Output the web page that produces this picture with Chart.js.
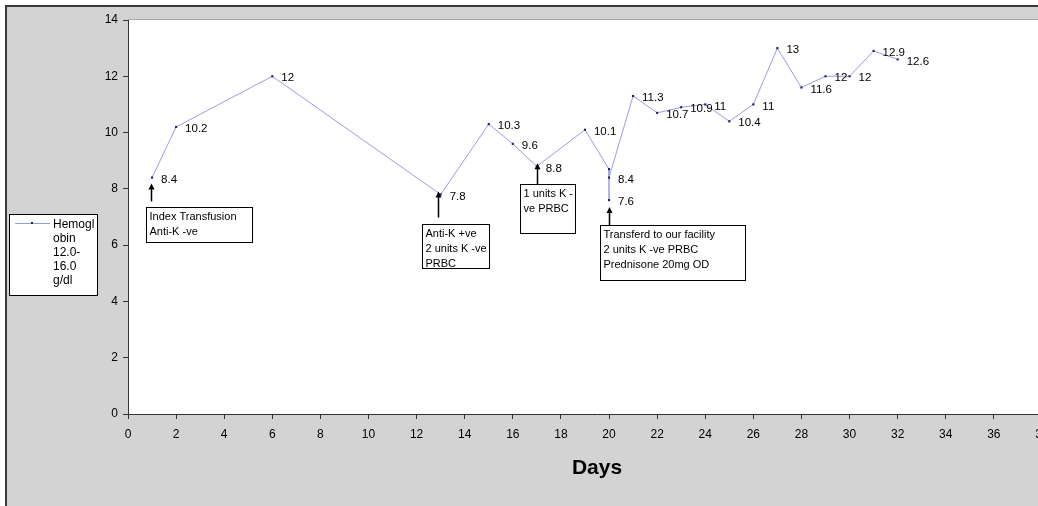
<!DOCTYPE html>
<html>
<head>
<meta charset="utf-8">
<title>Hemoglobin by day</title>
<script src="https://cdn.jsdelivr.net/npm/chart.js@4.4.1/dist/chart.umd.min.js"></script>
<style>
    html, body { margin: 0; padding: 0; background: #fff; overflow: hidden; }
    #wrap { width: 1038px; height: 506px; overflow: hidden; }
    canvas { display: block; }
</style>
</head>
<body>
<div id="wrap">
    <canvas id="hb-chart" width="1070" height="506"></canvas>
</div>
<script>
// Data
const days = [1, 2, 6, 13, 15, 16, 17, 19, 20, 20, 20, 21, 22, 23, 24, 25, 26, 27, 28, 29, 30, 31, 32];
const hemoglobin = [8.4, 10.2, 12, 7.8, 10.3, 9.6, 8.8, 10.1, 8.7, 7.6, 8.4, 11.3, 10.7, 10.9, 11, 10.4, 11, 13, 11.6, 12, 12, 12.9, 12.6];
// value labels shown next to the points (null = no label)
const pointLabels = ['8.4', '10.2', '12', '7.8', '10.3', '9.6', '8.8', '10.1', null, '7.6', '8.4', '11.3', '10.7', '10.9', '11', '10.4', '11', '13', '11.6', '12', '12', '12.9', '12.6'];

const seriesName = 'Hemoglobin 12.0-16.0 g/dl';
const legendLines = ['Hemogl', 'obin', '12.0-', '16.0', 'g/dl'];

const yTicks = [0, 2, 4, 6, 8, 10, 12, 14];
const xAxisTitle = 'Days';

// Notes: index of the point the arrow points to, and the text of the box
const notePointIndex = [0, 3, 6, 9];
const noteTexts = [
    ['Index Transfusion', 'Anti-K -ve'],
    ['Anti-K +ve', '2 units K -ve', 'PRBC'],
    ['1 units K -', 've PRBC'],
    ['Transferd to our facility', '2 units K -ve PRBC', 'Prednisone 20mg OD']
];
// pixel layout of each note, relative to its point
const noteLayout = [
    { arrowDx: -1, tipDy: 6, tailGap: 6, boxDx: -6, boxDy: 29, w: 106, h: 35 },
    { arrowDx: -3, tipDy: -3, tailGap: 7, boxDx: -19, boxDy: 30, w: 67, h: 44 },
    { arrowDx: 0, tipDy: -3, tailGap: 0, boxDx: -17, boxDy: 18, w: 55, h: 49 },
    { arrowDx: 0, tipDy: 7, tailGap: 0, boxDx: -9, boxDy: 25, w: 145, h: 55 }
];

const FONT = "'Liberation Sans', Arial, sans-serif";
const GRAY_BG = '#d3d3d3';
const LINE_COLOR = '#9c9ce6';
const POINT_COLOR = '#1a1a80';

// Background: white outside, gray frame, white plot area
const backgroundPlugin = {
    id: 'excelBackground',
    beforeDraw(chart) {
        const ctx = chart.ctx;
        const area = chart.chartArea;
        ctx.save();
        ctx.fillStyle = '#fff';
        ctx.fillRect(0, 0, chart.width, chart.height);
        ctx.fillStyle = GRAY_BG;
        ctx.fillRect(7, 7, chart.width - 7, chart.height - 7);
        ctx.strokeStyle = '#3a3a3a';
        ctx.lineWidth = 2;
        ctx.beginPath();
        ctx.moveTo(6, chart.height);
        ctx.lineTo(6, 6);
        ctx.lineTo(chart.width, 6);
        ctx.stroke();
        ctx.fillStyle = '#fff';
        ctx.fillRect(area.left, area.top, area.right - area.left, area.bottom - area.top);
        ctx.strokeStyle = '#a8a8a8';
        ctx.lineWidth = 1;
        ctx.beginPath();
        ctx.moveTo(area.left, area.top - 0.5);
        ctx.lineTo(chart.width, area.top - 0.5);
        ctx.stroke();
        ctx.restore();
    }
};

// Value labels, annotation arrows/boxes and the legend
const overlayPlugin = {
    id: 'overlay',
    afterDatasetsDraw(chart) {
        const ctx = chart.ctx;
        const points = chart.getDatasetMeta(0).data;
        ctx.save();

        // labels next to the points
        ctx.fillStyle = '#000';
        ctx.font = '11.5px ' + FONT;
        ctx.textAlign = 'left';
        ctx.textBaseline = 'middle';
        points.forEach((pt, i) => {
            if (pointLabels[i] === null) return;
            ctx.fillText(pointLabels[i], pt.x + 9, pt.y + 2);
        });

        // notes
        notePointIndex.forEach((idx, n) => {
            const pt = points[idx];
            const lay = noteLayout[n];
            const ax = Math.round(pt.x + lay.arrowDx) + 0.5;
            const tipY = pt.y + lay.tipDy;
            const boxTop = Math.round(pt.y + lay.boxDy) + 0.5;
            const boxLeft = Math.round(pt.x + lay.boxDx) + 0.5;

            ctx.strokeStyle = '#000';
            ctx.fillStyle = '#000';
            ctx.lineWidth = 1.5;
            ctx.beginPath();
            ctx.moveTo(ax, boxTop - lay.tailGap);
            ctx.lineTo(ax, tipY + 4);
            ctx.stroke();
            ctx.beginPath();
            ctx.moveTo(ax, tipY);
            ctx.lineTo(ax - 3, tipY + 6);
            ctx.lineTo(ax + 3, tipY + 6);
            ctx.closePath();
            ctx.fill();

            ctx.lineWidth = 1;
            ctx.fillStyle = '#fff';
            ctx.fillRect(boxLeft, boxTop, lay.w, lay.h);
            ctx.strokeRect(boxLeft, boxTop, lay.w, lay.h);
            ctx.fillStyle = '#000';
            ctx.font = '11px ' + FONT;
            noteTexts[n].forEach((line, k) => {
                ctx.fillText(line, boxLeft + 3, boxTop + 9 + k * 15);
            });
        });

        // legend box on the left
        ctx.fillStyle = '#fff';
        ctx.strokeStyle = '#000';
        ctx.lineWidth = 1;
        ctx.fillRect(9.5, 214.5, 88, 81);
        ctx.strokeRect(9.5, 214.5, 88, 81);
        ctx.strokeStyle = LINE_COLOR;
        ctx.beginPath();
        ctx.moveTo(15, 223.5);
        ctx.lineTo(50, 223.5);
        ctx.stroke();
        ctx.fillStyle = POINT_COLOR;
        ctx.fillRect(31, 222, 2, 2);
        ctx.fillStyle = '#000';
        ctx.font = '12px ' + FONT;
        legendLines.forEach((line, k) => {
            ctx.fillText(line, 53, 225 + k * 14);
        });

        ctx.restore();
    }
};

const canvasElement = document.getElementById('hb-chart');

new Chart(canvasElement, {
    type: 'line',
    data: {
        datasets: [{
            label: seriesName,
            data: days.map((d, i) => ({ x: d, y: hemoglobin[i] })),
            borderColor: LINE_COLOR,
            borderWidth: 1,
            backgroundColor: POINT_COLOR,
            pointStyle: 'rect',
            pointRadius: 1.5,
            pointBorderWidth: 0,
            pointBackgroundColor: POINT_COLOR,
            tension: 0,
            fill: false
        }]
    },
    options: {
        responsive: false,
        animation: false,
        devicePixelRatio: 1,
        layout: {
            padding: { top: 20, left: 0, right: 4, bottom: 0 }
        },
        scales: {
            x: {
                type: 'linear',
                min: 0,
                max: 39,
                afterBuildTicks: function(scale) {
                    scale.ticks = scale.ticks.filter(t => t.value % 2 === 0);
                },
                afterFit: function(scale) {
                    scale.height = 92;
                },
                ticks: {
                    stepSize: 2,
                    includeBounds: false,
                    autoSkip: false,
                    maxRotation: 0,
                    padding: 8,
                    color: '#000',
                    font: { family: FONT, size: 12 }
                },
                grid: {
                    drawOnChartArea: false,
                    drawTicks: true,
                    tickLength: 5,
                    color: '#333'
                },
                border: { color: '#333', width: 1 },
                title: {
                    display: true,
                    text: xAxisTitle,
                    color: '#000',
                    font: { family: FONT, size: 21, weight: 'bold' },
                    padding: { top: 12, bottom: 25 }
                }
            },
            y: {
                min: 0,
                max: 14,
                afterBuildTicks: function(scale) {
                    scale.ticks = yTicks.map(v => ({ value: v }));
                },
                afterFit: function(scale) {
                    scale.width = 128;
                },
                ticks: {
                    stepSize: 2,
                    padding: 5,
                    color: '#000',
                    font: { family: FONT, size: 12 }
                },
                grid: {
                    drawOnChartArea: false,
                    drawTicks: true,
                    tickLength: 5,
                    color: '#333'
                },
                border: { color: '#333', width: 1 }
            }
        },
        plugins: {
            legend: { display: false },
            tooltip: { enabled: false }
        }
    },
    plugins: [backgroundPlugin, overlayPlugin]
});
</script>
</body>
</html>
